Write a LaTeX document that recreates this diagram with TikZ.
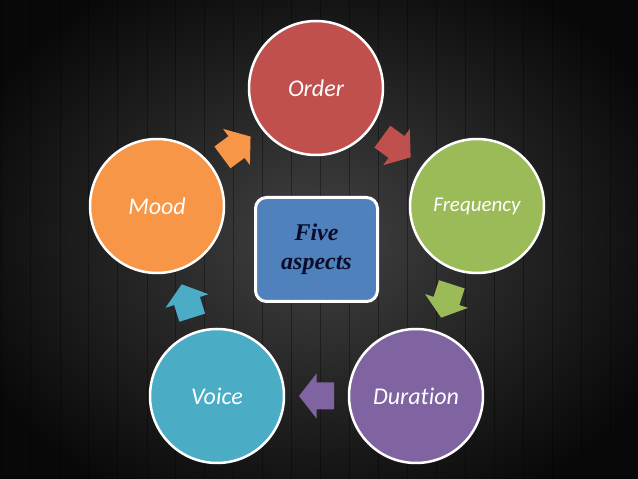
\documentclass[tikz,border=0pt]{standalone}
\usepackage{fontspec}
\setmainfont{Liberation Serif}
\newfontfamily\calib[Ligatures=NoCommon]{Carlito}
\usetikzlibrary{calc}
\definecolor{ordc}{HTML}{C0504D}
\definecolor{freqc}{HTML}{9BBB59}
\definecolor{durc}{HTML}{8064A2}
\definecolor{voicec}{HTML}{4BACC6}
\definecolor{moodc}{HTML}{F79646}
\definecolor{boxc}{HTML}{4F81BD}
\definecolor{navyc}{HTML}{0C0C2A}
\definecolor{bgin}{RGB}{66,66,66}
\definecolor{bgout}{RGB}{8,8,8}
\tikzset{
  circ/.style={circle, draw=white, line width=2.5pt, minimum size=134pt, inner sep=0pt,
    text=white, font=\calib\itshape\fontsize{24}{28}\selectfont},
  plank/.style={black, opacity=0.35, line width=1pt},
  blockarrow/.pic={\fill[pic actions] (-17.5,-13.5) -- (0,-13.5) -- (0,-22.5) -- (17.5,0)
      -- (0,22.5) -- (0,13.5) -- (-17.5,13.5) -- cycle;}
}
\begin{document}
\begin{tikzpicture}[x=1pt,y=1pt]
\useasboundingbox (0,0) rectangle (638,479);
\shade[inner color=bgin, outer color=bgout] (-60,-60) rectangle (698,539);
\foreach \x in {1,30,60,88,117,147,175,204,233,262,291,320,349,378,407,436,465,494,523,552,581,610}
  \draw[plank] (\x,0) -- (\x,479);
\node[circ, fill=ordc] (order) at (316,391) {Order};
\node[circ, fill=freqc, font=\calib\itshape\fontsize{21}{25}\selectfont] (freq) at (477,273) {Frequency};
\node[circ, fill=durc] (dur) at (416,83) {Duration};
\node[circ, fill=voicec] (voice) at (217,83) {Voice};
\node[circ, fill=moodc] (mood) at (157,273) {Mood};
\node[draw=white, line width=3pt, fill=boxc, rounded corners=11pt, minimum width=122pt,
  minimum height=104pt, align=center, text=navyc,
  font=\bfseries\itshape\fontsize{24}{29}\selectfont] (five) at (316.5,229.5) {Five\\aspects};
\pic[fill=moodc, rotate=36.6] at ($(mood)!0.5!(order)$) {blockarrow};
\pic[fill=ordc, rotate=-36.2] at ($(order)!0.5!(freq)$) {blockarrow};
\pic[fill=freqc, rotate=-107.8] at ($(freq)!0.5!(dur)$) {blockarrow};
\pic[fill=durc, rotate=180] at ($(dur)!0.5!(voice)$) {blockarrow};
\pic[fill=voicec, rotate=107.5] at ($(voice)!0.5!(mood)$) {blockarrow};
\end{tikzpicture}
\end{document}
